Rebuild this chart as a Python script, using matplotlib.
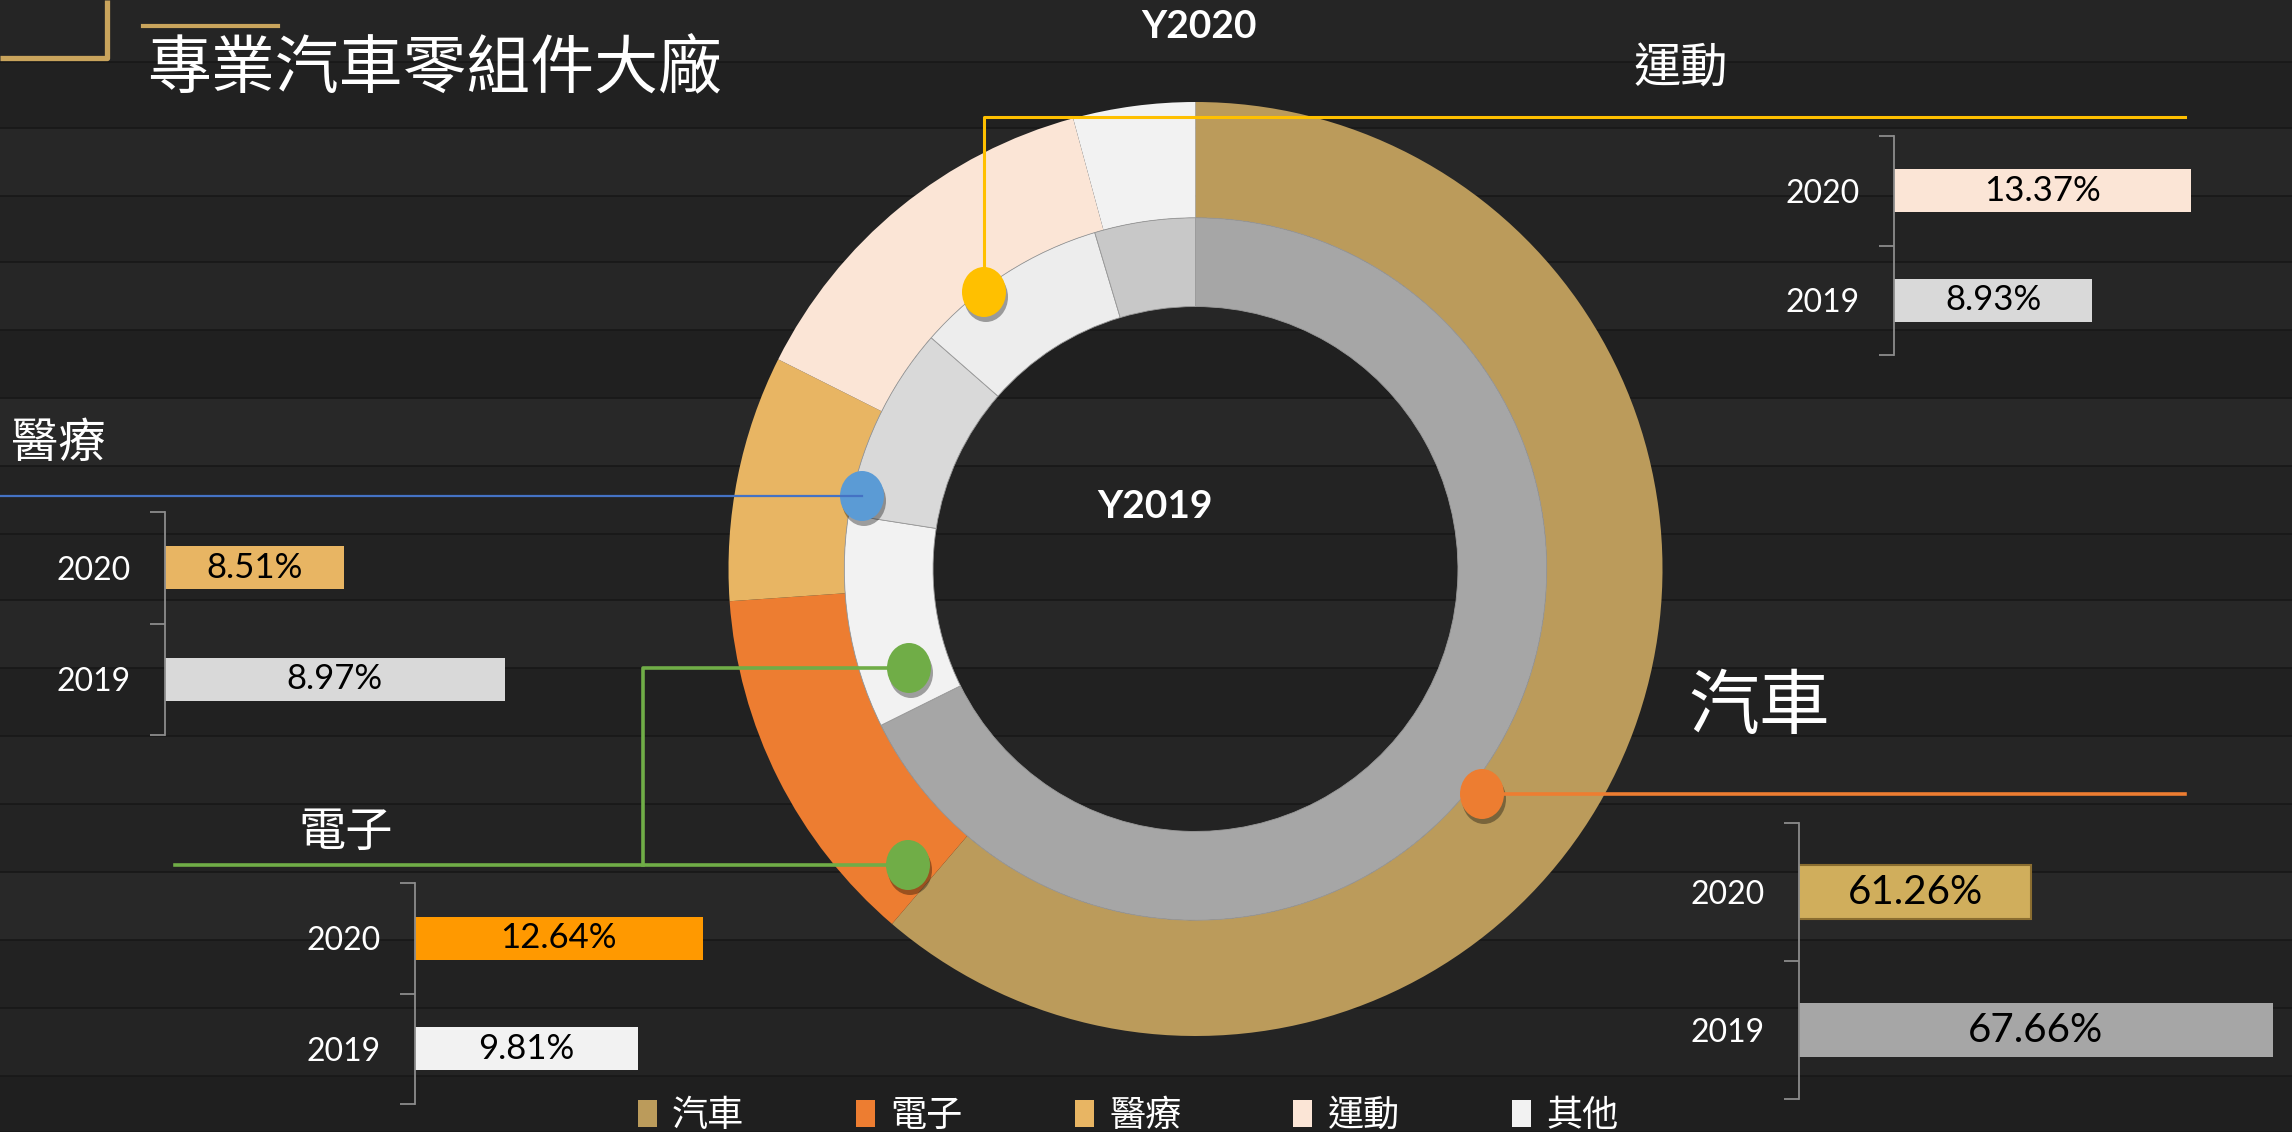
import matplotlib.pyplot as plt
from matplotlib.patches import Ellipse

plt.rcParams['font.family'] = ['Lato', 'Noto Sans CJK TC', 'DejaVu Sans']

W, H = 2292, 1132

# data
categories = ['汽車', '電子', '醫療', '運動', '其他']
share_2020 = [61.26, 12.64, 8.51, 13.37, 4.22]
share_2019 = [67.66, 9.81, 8.97, 8.93, 4.63]
years = ['2019', '2020']

colors_2020 = ['#BB9B5B', '#ED7D31', '#E8B563', '#FBE5D6', '#F2F2F2']
colors_2019 = ['#A6A6A6', '#F2F2F2', '#D9D9D9', '#EDEDED', '#C8C8C8']
bar_colors = {
    '汽車': ['#A6A6A6', '#D0AE5C'],
    '電子': ['#F2F2F2', '#FF9900'],
    '醫療': ['#D9D9D9', '#E8B563'],
    '運動': ['#D9D9D9', '#FBE5D6'],
}

fig = plt.figure(figsize=(W / 100, H / 100), dpi=100)
fig.patch.set_facecolor('#222222')


def px_axes(x0, y0, x1, y1, z=1):
    ax = fig.add_axes([x0 / W, 1 - y1 / H, (x1 - x0) / W, (y1 - y0) / H])
    ax.set_zorder(z)
    ax.patch.set_alpha(0)
    return ax


# background: dark planks
bg = px_axes(0, 0, W, H, z=0)
bg.set_xlim(0, W)
bg.set_ylim(H, 0)
bg.axis('off')
plank_edges = [0, 62, 128, 196, 262, 330, 398, 466, 534, 600, 668, 736, 804, 872, 940, 1008, 1076, 1132]
plank_shades = ['#252525', '#212121', '#272727', '#232323', '#262626', '#202020', '#282828',
                '#232323', '#222222', '#272727', '#212121', '#252525', '#232323', '#282828',
                '#222222', '#242424', '#1f1f1f']
for top, bot, c in zip(plank_edges[:-1], plank_edges[1:], plank_shades):
    bg.axhspan(top, bot, color=c, lw=0)
    bg.axhline(bot, color='#181818', lw=1.2)

# donut
cx, cy, R = 1195.5, 569, 467
pie_ax = px_axes(cx - R, cy - R, cx + R, cy + R, z=1)
outer, _ = pie_ax.pie(share_2020, radius=1, colors=colors_2020, startangle=90,
                      counterclock=False, wedgeprops=dict(width=0.248, linewidth=0))
pie_ax.pie(share_2019, radius=0.752, colors=colors_2019, startangle=90,
           counterclock=False, wedgeprops=dict(width=0.19, linewidth=0.6, edgecolor='#9a9a9a'))
pie_ax.set_xlim(-1, 1)
pie_ax.set_ylim(-1, 1)


# small bar panels
def bar_panel(name, x0, y0, y1, xmin, px_per_unit, width_px, fsize):
    i = categories.index(name)
    vals = [share_2019[i], share_2020[i]]
    ax = px_axes(x0, y0, x0 + width_px, y1, z=2)
    ax.barh([0, 1], vals, height=0.39, color=bar_colors[name],
            edgecolor=['none', '#8a6d30' if name == '汽車' else 'none'], linewidth=1.5)
    ax.set_xlim(xmin, xmin + width_px / px_per_unit)
    ax.set_ylim(-0.5, 1.5)
    for s in ['top', 'right', 'bottom']:
        ax.spines[s].set_visible(False)
    ax.spines['left'].set_color('#8c8c8c')
    ax.spines['left'].set_linewidth(1.3)
    ax.set_xticks([])
    ax.set_yticks([-0.5, 0.5, 1.5])
    ax.set_yticklabels([])
    ax.set_yticks([0, 1], minor=True)
    ax.set_yticklabels(years, minor=True)
    ax.tick_params(axis='y', which='major', length=11, width=1.3, color='#8c8c8c')
    ax.tick_params(axis='y', which='minor', length=0, pad=25, labelsize=23, labelcolor='white')
    for y, v in zip([0, 1], vals):
        ax.text((xmin + v) / 2, y, f'{v:.2f}%', ha='center', va='center',
                fontsize=fsize, color='black')


bar_panel('運動', 1894, 136, 355, 0, 22.2, 400, 25)
bar_panel('醫療', 165, 512, 735, 8.0, 350, 400, 25)
bar_panel('電子', 415, 883, 1104, 0, 22.75, 400, 25)
bar_panel('汽車', 1799, 823, 1099, 55.1, 37.7, 480, 29)

# overlay: callouts, titles
ov = px_axes(0, 0, W, H, z=3)
ov.set_xlim(0, W)
ov.set_ylim(H, 0)
ov.axis('off')

gold = '#C9A45C'
ov.plot([0, 107, 107], [58, 58, 0], color=gold, lw=3.8, solid_capstyle='butt')
ov.plot([143, 278], [26, 26], color=gold, lw=3)
cjk = 'Noto Sans CJK TC'
ov.text(435, 70, '專業汽車零組件大廠', ha='center', va='center', fontsize=46,
        color='white', family=cjk, weight='medium')

ov.text(1199, 27, 'Y2020', ha='center', va='center', fontsize=28, color='white', weight='bold')
ov.text(1155, 507, 'Y2019', ha='center', va='center', fontsize=28, color='white', weight='bold')

# connector lines
ov.plot([984, 984, 2185], [292, 117, 117], color='#FFC000', lw=2.2)
ov.plot([0, 862], [496, 496], color='#4472C4', lw=1.6)
ov.plot([175, 908], [865, 865], color='#70AD47', lw=2.6)
ov.plot([643, 643, 909], [865, 668, 668], color='#70AD47', lw=2.6)
ov.plot([1482, 2185], [794, 794], color='#ED7D31', lw=2.6)

dots = [(984, 292, '#FFC000'), (862, 496, '#5B9BD5'), (909, 668, '#70AD47'),
        (908, 865, '#70AD47'), (1482, 794, '#ED7D31')]
for x, y, c in dots:
    ov.add_patch(Ellipse((x + 2, y + 5), 44, 50, color='black', alpha=0.35, lw=0))
    ov.add_patch(Ellipse((x, y), 44, 50, color=c, lw=0))

ov.text(1681, 69, '運動', ha='center', va='center', fontsize=34, color='white', family=cjk)
ov.text(58, 444, '醫療', ha='center', va='center', fontsize=34, color='white', family=cjk)
ov.text(346, 833, '電子', ha='center', va='center', fontsize=34, color='white', family=cjk)
ov.text(1759, 707, '汽車', ha='center', va='center', fontsize=51, color='white', family=cjk)

leg = fig.legend(outer, categories, loc='center', bbox_to_anchor=(1128 / W, 0.014), ncol=5,
                 frameon=False, fontsize=26, handlelength=0.53, handleheight=0.78,
                 handletextpad=0.42, columnspacing=3.1, borderpad=0)
for t in leg.get_texts():
    t.set_color('white')
    t.set_family(cjk)

fig.savefig('out.png', dpi=100, facecolor=fig.get_facecolor())
